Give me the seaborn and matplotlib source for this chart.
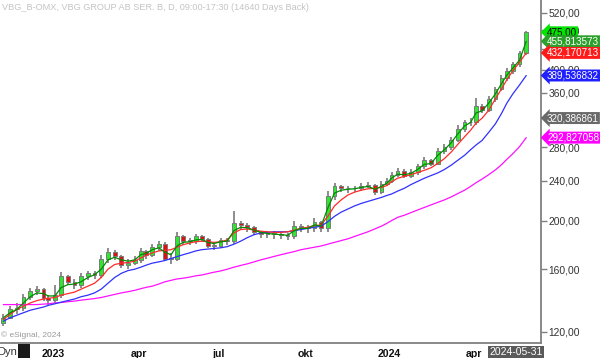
import numpy as np
import pandas as pd
import seaborn as sns
import matplotlib
matplotlib.use('Agg')
import matplotlib.pyplot as plt
from matplotlib.patches import Rectangle
from matplotlib.transforms import blended_transform_factory
from matplotlib.ticker import NullLocator

# weekly candles, Nov 2022 -> May 2024
OPEN = [125, 128, 133, 134, 141, 145, 146, 140, 139, 142, 155, 151, 149, 155, 157, 156, 168, 173, 170, 163,
        165, 167, 174, 171, 177, 180, 168, 168, 186, 182, 182, 186, 184, 178, 178, 183, 182, 198, 196, 194,
        190, 188, 188, 188, 187, 186, 195, 194, 193, 199, 193, 224, 234, 232, 232, 232, 235, 236, 228, 237,
        240, 247, 251, 246, 250, 257, 264, 260, 275, 280, 290, 305, 314, 315, 338, 333, 350, 366, 385, 398,
        410, 432]
HIGH = [130, 135, 137, 143, 147, 148, 147, 142, 149, 158, 156, 153, 157, 159, 159, 171, 176, 175, 171, 168,
        170, 176, 175, 180, 182, 181, 172, 190, 187, 185, 188, 187, 185, 181, 185, 185, 209, 200, 198, 195,
        191, 191, 191, 190, 189, 200, 197, 196, 202, 200, 229, 238, 236, 235, 235, 238, 239, 237, 240, 243,
        250, 255, 253, 254, 260, 268, 266, 279, 284, 294, 310, 318, 320, 352, 342, 355, 370, 390, 403, 414,
        436, 478]
LOW = [123, 127, 130, 132, 139, 142, 138, 136, 137, 140, 149, 146, 147, 152, 153, 154, 165, 167, 161, 160,
       163, 165, 168, 169, 174, 166, 164, 166, 179, 179, 180, 181, 176, 175, 176, 179, 180, 192, 190, 187,
       185, 185, 184, 184, 183, 184, 190, 189, 190, 190, 190, 220, 228, 227, 228, 229, 232, 225, 226, 235,
       238, 244, 243, 243, 247, 254, 257, 258, 272, 277, 287, 301, 309, 311, 328, 330, 345, 362, 380, 393,
       405, 428]
CLOSE = [128, 133, 134, 141, 145, 146, 140, 139, 142, 155, 151, 149, 155, 157, 156, 168, 173, 170, 163, 165,
         167, 174, 171, 177, 180, 168, 168, 186, 182, 182, 186, 184, 178, 178, 183, 182, 198, 196, 194, 190,
         188, 188, 188, 187, 186, 195, 194, 193, 199, 193, 224, 234, 232, 232, 232, 235, 236, 228, 237, 240,
         247, 251, 246, 250, 257, 264, 260, 275, 280, 290, 305, 314, 315, 338, 333, 350, 366, 385, 398, 410,
         432, 475]

# moving averages at the same weeks
MA_GREEN = [128, 131, 133, 137, 141, 143.5, 143, 141.5, 141.5, 147, 149, 149.5, 151, 154, 156, 160, 167, 169, 167, 166,
            167, 171, 172, 175, 176.5, 173, 171, 178, 181, 181.5, 183, 183.5, 181, 180, 181.5, 182, 191, 194, 193.5, 191.5,
            189.5, 188.5, 188, 187.5, 187, 191, 193, 193, 196, 195, 212, 227, 230, 231, 231.5, 233, 234, 231, 234, 237.5,
            243, 247.5, 247, 248.5, 253, 259, 260, 270, 277, 286, 298, 309, 314, 328, 331, 343, 358, 375, 390, 403,
            418, 455.813573]
MA_RED = [127, 130, 133, 135, 137, 138.5, 139.5, 140, 140.5, 142, 143, 144, 146, 148, 150, 154, 160, 163.5, 164.5, 165,
          166, 168.5, 170.5, 172.5, 174, 174.5, 175, 177, 179, 180.5, 181.5, 182, 181.5, 181, 181.5, 183, 189, 192, 192.5, 191.5,
          190.5, 190, 189.5, 189.5, 190, 191.5, 193, 194, 195.5, 196, 204, 214, 220, 225, 228, 230, 231.5, 232, 233, 235,
          239, 243, 245, 247, 249.5, 252, 255, 260, 266, 274, 284, 294, 303, 313, 320, 332, 350, 366, 382, 398,
          414, 432.170713]
MA_BLUE = [126, 128, 129.5, 131, 132.5, 133.5, 134.5, 135.5, 136.5, 137.5, 138.5, 139.5, 141, 142, 143.5, 146, 150, 154, 157, 159,
           160, 161.5, 163, 164.5, 165.5, 166.5, 168, 169.5, 171, 172.5, 174, 175, 175.5, 176, 176.5, 177.5, 179.5, 182, 185, 187.5,
           189, 189.5, 190, 190, 190, 191, 192, 193, 194, 195, 199, 204, 208, 211, 214, 216.5, 218.5, 220.5, 222.5, 224.5,
           226, 229, 232, 236, 239.5, 243, 246, 249, 253, 258, 264, 270, 277, 283, 289, 300, 312, 327, 343, 358,
           373, 389.536832]
MA_MAGENTA = [136, 136, 136, 136, 136, 136, 136.3, 136.5, 137, 137.3, 137.8, 138.2, 138.8, 139.3, 139.8, 140.5, 141.5, 142.5, 143.5, 144.3,
              145.2, 146.3, 147.2, 148, 149.5, 151, 152, 153, 153.5, 154.3, 155.2, 155.8, 156.8, 157.8, 158.7, 160, 161.5, 162.8, 164, 165.5,
              167, 168.3, 169.7, 171, 172.3, 173.5, 175, 176, 177, 178, 179.5, 181, 182.5, 184, 186, 188, 190, 192.5, 195, 197.5,
              200, 203, 205, 207.5, 210, 212.5, 215, 217.5, 220, 223, 226.5, 230, 234, 238, 242, 247, 252.5, 258.5, 265, 272,
              281, 292.827058]
GREY_MARKER = 320.386861

HOLIDAYS = ['2022-12-26', '2023-01-06', '2023-04-07', '2023-04-10', '2023-05-01', '2023-05-18', '2023-06-06',
            '2023-06-23', '2023-12-25', '2023-12-26', '2024-01-01', '2024-03-29', '2024-04-01', '2024-05-01',
            '2024-05-09']
TICK_MONTHS = ['2023-01-01', '2023-04-01', '2023-07-01', '2023-10-01', '2024-01-01', '2024-04-01']
TICK_LABELS = ['2023', 'apr', 'jul', 'okt', '2024', 'apr']
Y_TICKS = [120, 160, 200, 240, 280, 320, 360, 400, 440, 480, 520]
HIDDEN_TICKS = [320, 440]  # fully covered by the value markers

sns.set_style('white')
plt.rcParams['font.family'] = ['Liberation Sans', 'DejaVu Sans']

# trading-day axis (day 0 = first session of 2023)
origin = np.datetime64('2023-01-02')
weeks = pd.date_range('2022-11-07', periods=len(CLOSE), freq='W-MON').values.astype('datetime64[D]')
start_idx = np.busday_count(origin, weeks, holidays=HOLIDAYS)
n_days = np.busday_count(weeks, weeks + np.timedelta64(7, 'D'), holidays=HOLIDAYS)
xpos = start_idx + (n_days - 1) / 2

o, h, l, c = map(np.array, (OPEN, HIGH, LOW, CLOSE))

fig = plt.figure(figsize=(6, 3.58), dpi=100)
ax = fig.add_axes([0, 15 / 358, 541 / 600, 343 / 358])

# candles
up = c >= o
ax.vlines(xpos, l, h, color='#7a7a7a', lw=1.2, zorder=2)
ax.bar(xpos, np.maximum(np.abs(c - o), 0.6), bottom=np.minimum(o, c), width=2.8,
       color=np.where(up, '#2ee62e', '#e01010'), edgecolor='#7a7a7a', lw=0.7, zorder=3)

# moving averages (green drawn last so it stays on top)
ma = pd.DataFrame({
    'x': np.tile(xpos, 4),
    'value': MA_GREEN + MA_RED + MA_BLUE + MA_MAGENTA,
    'line': ['green'] * len(xpos) + ['red'] * len(xpos) + ['blue'] * len(xpos) + ['magenta'] * len(xpos),
})
sns.lineplot(data=ma, x='x', y='value', hue='line', hue_order=['magenta', 'blue', 'red', 'green'],
             estimator=None, sort=False, legend=False,
             palette={'green': '#008c00', 'red': '#ff2a2a', 'blue': '#3030ff', 'magenta': '#ff10ff'},
             lw=0.9, ax=ax, zorder=4)

ax.set_yscale('log')
ax.set_ylim(114, 551)
ax.set_xlim(-39.5, 364)
ax.set_xlabel('')
ax.set_ylabel('')

ax.yaxis.tick_right()
ax.set_yticks(Y_TICKS)
ax.set_yticklabels(['' if v in HIDDEN_TICKS else f'{v:.2f}'.replace('.', ',') for v in Y_TICKS])
ax.yaxis.set_minor_locator(NullLocator())
ax.tick_params(axis='y', direction='out', length=4, width=1, color='#808080',
               labelsize=7.4, labelcolor='#333333', pad=1.5)

first_days = np.busday_offset(np.array(TICK_MONTHS, dtype='datetime64[D]'), 0, roll='forward', holidays=HOLIDAYS)
ax.set_xticks(np.busday_count(origin, first_days, holidays=HOLIDAYS))
ax.set_xticklabels(TICK_LABELS, fontweight='bold')
ax.xaxis.set_minor_locator(NullLocator())
ax.tick_params(axis='x', direction='inout', length=4, width=1, color='#808080',
               labelsize=7.6, labelcolor='#111111', pad=2.5)

for side in ['top', 'left']:
    ax.spines[side].set_visible(False)
for side in ['right', 'bottom']:
    ax.spines[side].set_color('#808080')
    ax.spines[side].set_linewidth(1.3)

# value markers on the price scale
trans = blended_transform_factory(ax.transAxes, ax.transData)
markers = [
    (CLOSE[-1], f'{CLOSE[-1]:.2f}', '#00e400', '#000000'),
    (MA_GREEN[-1], f'{MA_GREEN[-1]:.6f}', '#2ca02c', '#ffffff'),
    (MA_RED[-1], f'{MA_RED[-1]:.6f}', '#ff1a1a', '#ffffff'),
    (MA_BLUE[-1], f'{MA_BLUE[-1]:.6f}', '#2020ff', '#ffffff'),
    (GREY_MARKER, f'{GREY_MARKER:.6f}', '#6a6a6a', '#ffffff'),
    (MA_MAGENTA[-1], f'{MA_MAGENTA[-1]:.6f}', '#ff00ff', '#ffffff'),
]
for val, txt, fc, tc in markers:
    ax.text(1 + 6 / 541, val, txt.replace('.', ','), transform=trans, ha='left', va='center',
            fontsize=7.1, color=tc, clip_on=False, zorder=10,
            bbox=dict(boxstyle='larrow,pad=0.1', fc=fc, ec='none'))

# chart furniture
fig.text(0.004, 1 - 8 / 358, 'VBG_B-OMX, VBG GROUP AB SER. B, D, 09:00-17:30 (14640 Days Back)',
         color='#c4c4c4', fontsize=6.6, va='center', ha='left')
fig.text(0.002, 1 - 335 / 358, '© eSignal, 2024', color='#9a9a9a', fontsize=6, va='center', ha='left')
fig.text(-0.004, 1 - 352 / 358, 'Dyn', color='#333333', fontsize=8, va='center', ha='left')
fig.patches.append(Rectangle((18 / 600, 0), 12 / 600, 14 / 358, transform=fig.transFigure,
                             fc='#1a1a1a', ec='none'))
fig.text(516 / 600, 1 - 352 / 358, '2024-05-31', color='#ffffff', fontsize=7.5, va='center', ha='center',
         bbox=dict(boxstyle='square,pad=0.12', fc='#5a5a5a', ec='none'))

fig.savefig('out.png', dpi=100, facecolor='white')
